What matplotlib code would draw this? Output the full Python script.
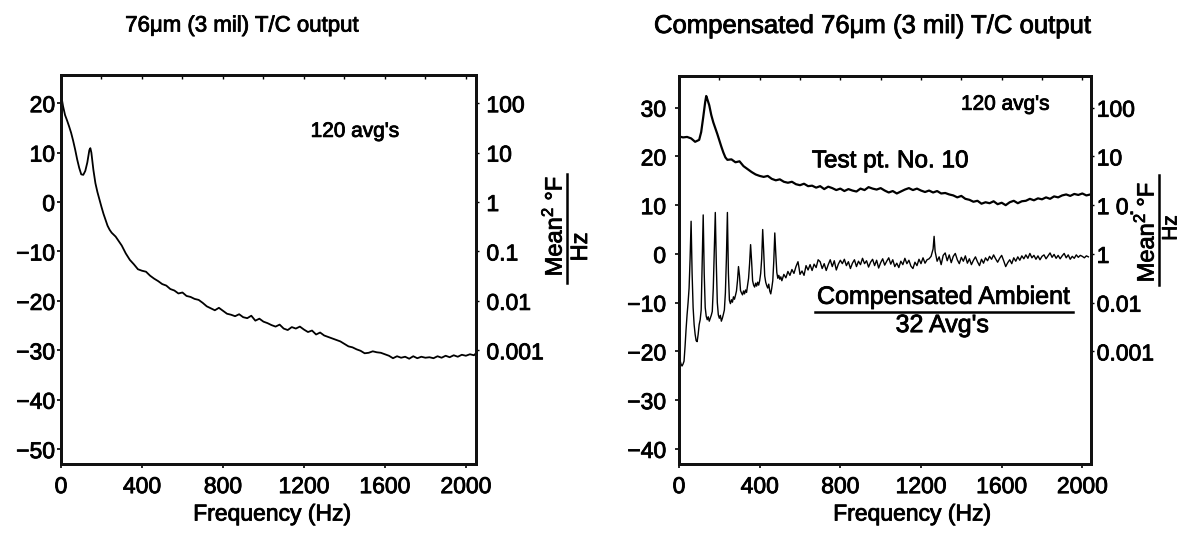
import matplotlib
matplotlib.use("Agg")
import matplotlib.pyplot as plt
import matplotlib.patheffects as pe
from matplotlib.lines import Line2D
from matplotlib.text import Text

plt.rcParams['font.family'] = ['Liberation Sans', 'DejaVu Sans']
plt.rcParams['mathtext.fontset'] = 'custom'
plt.rcParams['mathtext.rm'] = 'Liberation Sans'
plt.rcParams['mathtext.it'] = 'Liberation Sans:italic'
plt.rcParams['mathtext.bf'] = 'Liberation Sans:bold'
plt.rcParams['axes.unicode_minus'] = True

# ---------------- data ----------------
left_freq = [0, 10, 20, 30, 40, 50, 60, 70, 80, 90, 100, 110, 120, 130, 140, 145, 150, 160, 170, 180,
             190, 200, 210, 220, 230, 240, 250, 260, 270, 280, 290, 300, 320, 340, 360, 380, 400,
             420, 440, 460, 480, 500, 520, 540, 560, 580, 600, 620, 640, 660, 680, 700, 720, 740,
             760, 780, 800, 820, 840, 860, 880, 900, 920, 940, 960, 980, 1000, 1020, 1040, 1060,
             1080, 1100, 1120, 1140, 1160, 1180, 1200, 1220, 1240, 1260, 1280, 1300, 1320, 1340,
             1360, 1380, 1400, 1420, 1440, 1460, 1480, 1500, 1520, 1540, 1560, 1580, 1600, 1620,
             1640, 1660, 1680, 1700, 1720, 1740, 1760, 1780, 1800, 1820, 1840, 1860, 1880, 1900,
             1920, 1940, 1960, 1980, 2000, 2020, 2040, 2050]
left_db = [21.8, 19.4, 17.6, 16.5, 15.3, 14.0, 12.4, 10.6, 8.6, 6.9, 5.6, 5.5, 6.3, 8.0, 10.5, 10.9,
           10.0, 6.5, 3.8, 2.0, 0.5, -1.0, -2.4, -3.6, -4.8, -5.6, -6.2, -6.6, -7.0, -7.6, -8.2,
           -8.8, -10.4, -11.7, -12.6, -13.6, -13.9, -14.1, -14.9, -15.5, -16.0, -16.6, -16.9,
           -17.6, -17.9, -18.5, -18.3, -19.0, -19.2, -19.6, -19.8, -20.4, -21.1, -21.5, -21.9,
           -21.4, -22.0, -22.6, -22.8, -23.1, -22.7, -23.3, -23.5, -23.0, -24.0, -23.6, -24.2,
           -24.5, -24.9, -25.2, -24.8, -25.6, -25.9, -25.3, -25.6, -25.2, -25.8, -26.3, -26.0,
           -26.8, -26.4, -27.0, -27.3, -27.6, -27.9, -28.2, -28.7, -29.2, -29.4, -29.8, -30.1,
           -30.6, -30.5, -30.2, -30.4, -30.5, -30.8, -31.1, -31.6, -31.2, -31.5, -31.3, -31.7,
           -31.2, -31.6, -31.3, -31.5, -31.4, -31.6, -31.2, -31.5, -31.1, -31.4, -31.0, -31.3,
           -30.9, -31.1, -30.8, -31.0, -30.6]

test_freq = [0, 20, 40, 60, 80, 100, 110, 120, 130, 135, 140, 150, 160, 170, 180, 190, 200, 210,
             220, 230, 240, 260, 280, 300, 320, 340, 360, 380, 400, 420, 440, 460, 480, 500, 520,
             540, 560, 580, 600, 620, 640, 660, 680, 700, 720, 740, 760, 780, 800, 820, 840, 860,
             880, 900, 920, 940, 960, 980, 1000, 1020, 1040, 1060, 1080, 1100, 1120, 1140, 1160,
             1180, 1200, 1220, 1240, 1260, 1280, 1300, 1320, 1340, 1360, 1380, 1400, 1420, 1440,
             1460, 1480, 1500, 1520, 1540, 1560, 1580, 1600, 1620, 1640, 1660, 1680, 1700, 1720,
             1740, 1760, 1780, 1800, 1820, 1840, 1860, 1880, 1900, 1920, 1940, 1960, 1980, 2000,
             2020, 2040]
test_db = [24.1, 23.9, 24.0, 23.7, 23.0, 23.4, 25.0, 28.0, 31.2, 32.4, 31.8, 30.5, 28.5, 27.0,
           25.8, 24.6, 23.3, 22.0, 20.8, 19.8, 19.3, 19.4, 18.8, 19.0, 18.0, 17.4, 16.8, 16.3,
           16.0, 15.8, 16.0, 15.4, 15.1, 15.3, 14.8, 14.6, 14.8, 14.3, 14.1, 14.4, 13.9, 14.0,
           13.6, 13.9, 13.3, 13.8, 13.5, 13.1, 13.4, 12.9, 13.3, 13.0, 12.8, 13.4, 13.1, 13.7,
           13.4, 13.2, 13.5, 13.0, 12.6, 12.9, 12.4, 12.8, 13.2, 13.5, 13.1, 13.4, 13.0, 12.7,
           13.0, 12.6, 12.9, 12.4, 12.5, 12.2, 12.0, 11.6, 11.9, 11.3, 11.1, 10.7, 10.9, 10.3,
           10.6, 10.4, 10.8, 10.2, 10.5, 10.0, 10.6, 10.9, 10.4, 10.8, 10.9, 11.3, 11.0, 11.4,
           11.2, 11.6, 11.3, 11.8, 11.6, 12.0, 12.2, 11.9, 12.3, 12.1, 12.4, 12.0, 12.2]

amb_freq = [0, 5, 10, 15, 20, 25, 30, 35, 40, 45, 50, 55, 60, 65, 70, 75, 80, 85, 90, 95, 100,
            105, 110, 115, 120, 125, 130, 135, 140, 145, 150, 155, 160, 165, 170, 175, 180, 185,
            190, 195, 200, 205, 210, 215, 220, 225, 230, 235, 240, 245, 250, 255, 260, 265, 270,
            275, 280, 285, 290, 295, 300, 305, 310, 315, 320, 325, 330, 335, 340, 345, 350, 355,
            360, 365, 370, 375, 380, 385, 390, 395, 400, 405, 410, 415, 420, 425, 430, 435, 440,
            445, 450, 455, 460, 465, 470, 475, 480, 485, 490, 495, 500, 505, 510, 520, 530, 540,
            550, 560, 570, 580, 590, 595, 600, 610, 620, 630, 640, 650, 660, 670, 680, 690, 700,
            710, 720, 730, 740, 750, 760, 770, 780, 790, 800, 810, 820, 830, 840, 850, 860, 870,
            880, 890, 900, 910, 920, 930, 940, 950, 960, 970, 980, 990, 1000, 1010, 1020, 1030,
            1040, 1050, 1060, 1070, 1080, 1090, 1100, 1110, 1120, 1130, 1140, 1150, 1160, 1170,
            1180, 1190, 1200, 1210, 1220, 1230, 1240, 1250, 1260, 1265, 1270, 1280, 1290, 1300,
            1310, 1320, 1330, 1340, 1350, 1360, 1370, 1380, 1390, 1400, 1410, 1420, 1430, 1440,
            1450, 1460, 1470, 1480, 1490, 1500, 1510, 1520, 1530, 1540, 1550, 1560, 1570, 1580,
            1590, 1600, 1610, 1620, 1630, 1640, 1650, 1660, 1670, 1680, 1690, 1700, 1710, 1720,
            1730, 1740, 1750, 1760, 1770, 1780, 1790, 1800, 1810, 1820, 1830, 1840, 1850, 1860,
            1870, 1880, 1890, 1900, 1910, 1920, 1930, 1940, 1950, 1960, 1970, 1980, 1990, 2000,
            2010, 2020, 2030]
amb_db = [-20.4, -21.8, -22.6, -23.0, -22.6, -22.0, -19.0, -15.5, -12.5, -10.0, -7.0, -1.0, 6.7,
          -4.0, -11.0, -14.5, -16.5, -17.8, -18.0, -16.5, -14.5, -13.5, -11.5, -2.0, 8.0, -4.0,
          -11.0, -12.8, -13.5, -12.9, -13.8, -13.2, -12.6, -11.8, -7.0, 0.5, 8.5, -2.0, -10.0,
          -12.5, -13.2, -12.6, -13.8, -13.2, -12.4, -11.5, -8.0, -1.0, 8.5, -4.0, -9.5, -10.2,
          -9.4, -9.9, -8.8, -9.3, -8.5, -7.6, -5.5, -2.6, -4.5, -7.5, -8.0, -8.4, -7.6, -8.2,
          -7.4, -7.9, -6.5, -5.0, -2.0, 1.9, -1.5, -5.5, -6.4, -6.8, -6.0, -6.6, -5.8, -6.4,
          -5.5, -4.0, -1.0, 5.0, 0.5, -4.5, -5.8, -6.5, -7.0, -6.2, -7.6, -8.2, -7.0, -5.5,
          -1.5, 4.3, 0.0, -3.8, -5.0, -4.4, -5.2, -4.7, -5.5, -4.2, -4.9, -3.6, -4.4, -3.2,
          -4.0, -2.6, -1.6, -2.8, -4.2, -3.5, -4.4, -2.4, -3.3, -2.2, -3.4, -2.1, -2.8, -1.2,
          -1.6, -3.0, -2.0, -3.4, -2.2, -1.2, -2.6, -1.4, -3.3, -2.1, -1.3, -2.0, -1.1, -2.4,
          -1.6, -3.0, -1.9, -1.2, -2.6, -1.5, -2.2, -0.9, -2.0, -1.4, -2.7, -1.7, -1.1, -2.4,
          -1.3, -2.9, -1.8, -1.0, -2.3, -1.5, -0.8, -2.1, -1.2, -2.6, -1.9, -2.8, -1.5, -2.2,
          -0.9, -2.0, -1.3, -2.5, -3.0, -1.7, -2.4, -1.1, -2.0, -0.8, -1.9, -1.2, -1.0, -0.5,
          1.0, 3.6, 0.5, -1.5, -0.6, -2.2, -0.3, 0.2, -1.4, -0.2, -1.8, -0.5, 0.1, -1.2, -2.0,
          -0.7, -1.5, -0.4, -1.9, -1.0, -2.2, -1.3, -0.6, -1.6, -2.4, -1.1, -1.9, -0.8, -1.4,
          -0.5, -1.1, -0.2, -1.0, -1.7, -0.9, -0.3, -1.4, -2.6, -1.8, -1.2, -2.0, -0.8, -1.5,
          -0.6, -1.3, -0.4, -1.0, -0.2, -0.9, 0.1, -0.8, -0.3, -1.1, -0.4, -1.2, -0.5, -0.2,
          -1.0, -0.4, 0.2, -0.7, -0.1, -0.9, -0.3, -1.0, -0.4, 0.1, -0.8, -0.2, -1.1, -0.5,
          -0.9, -0.2, -0.7, -0.3, -0.5, -0.8, -0.4, -0.6]

x_ticks = [0, 400, 800, 1200, 1600, 2000]
left_yticks = [20, 10, 0, -10, -20, -30, -40, -50]
left_right_ticks = [20, 10, 0, -10, -20, -30]
left_right_labels = ['100', '10', '1', '0.1', '0.01', '0.001']
right_yticks = [30, 20, 10, 0, -10, -20, -30, -40]
right_right_ticks = [30, 20, 10, 0, -10, -20]
right_right_labels = ['100', '10', '1 0.', '1', '0.01', '0.001']

# ---------------- layout ----------------
W, H = 1183, 534
fig = plt.figure(figsize=(W / 100, H / 100), dpi=100)


def box(l, r, t, b):
    return [l / W, 1 - b / H, (r - l) / W, (b - t) / H]


def fx(x):
    return x / W


def fy(y):
    return 1 - y / H


FS = 16.5
SPINE_LW = 2.1
INK = '#111111'


def style_axes(ax, xlim, ylim, yticks, rticks, rlabels, lpad, rpad):
    ax.set_xlim(*xlim)
    ax.set_ylim(*ylim)
    ax.set_xticks(x_ticks)
    ax.set_xticklabels([str(v) for v in x_ticks])
    ax.set_yticks(yticks)
    ax.set_yticklabels([('\u2212' + str(-v)) if v < 0 else str(v) for v in yticks])
    for s in ax.spines.values():
        s.set_linewidth(SPINE_LW)
        s.set_color(INK)
    ax.tick_params(axis='x', direction='out', length=3, width=1.2, pad=5, labelsize=FS)
    ax.tick_params(axis='y', direction='out', length=3, width=1.2, pad=lpad, labelsize=FS)
    top = ax.secondary_xaxis('top')
    top.set_xticks(list(range(0, 2001, 200)))
    top.tick_params(direction='in', length=3, width=1.0, labeltop=False)
    top.spines['top'].set_linewidth(SPINE_LW)
    top.spines['top'].set_color(INK)
    tw = ax.twinx()
    tw.set_ylim(*ylim)
    tw.set_yticks(rticks)
    tw.set_yticklabels(rlabels)
    tw.tick_params(axis='y', direction='out', length=2.5, width=1.0, pad=rpad, labelsize=FS)
    for s in tw.spines.values():
        s.set_linewidth(SPINE_LW)
        s.set_color(INK)
    return tw


axL = fig.add_axes(box(61, 476, 75, 464))
axL.plot(left_freq, left_db, color='black', lw=1.3)
style_axes(axL, (0, 2050), (-53.0, 25.7), left_yticks, left_right_ticks, left_right_labels, 1.3, 5.0)
axL.text(1452, 14.3, "120 avg's", fontsize=15, ha='center', va='center')

axR = fig.add_axes(box(679, 1091, 76, 464))
axR.plot(test_freq, test_db, color='black', lw=1.6)
axR.plot(amb_freq, amb_db, color='black', lw=1.0)
style_axes(axR, (0, 2043), (-43.1, 36.5), right_yticks, right_right_ticks, right_right_labels, 6.3, 1.6)
axR.text(1618, 30.7, "120 avg's", fontsize=15, ha='center', va='center')
axR.text(1047, 19.0, "Test pt. No. 10", fontsize=17.5, ha='center', va='center')
axR.text(1310, -8.8, "Compensated Ambient", fontsize=18, ha='center', va='center')
axR.text(1305, -14.6, "32 Avg's", fontsize=18, ha='center', va='center')
frac_left, frac_right, frac_y = 676, 1952, -12.0
axR.add_line(Line2D([frac_left, frac_right], [frac_y, frac_y], color='black', lw=1.8))

# titles and x labels
fig.text(fx(242), fy(26), "76\u03bcm (3 mil) T/C output", fontsize=16, ha='center', va='center')
fig.text(fx(873), fy(26), "Compensated 76\u03bcm (3 mil) T/C output", fontsize=18.5,
         ha='center', va='center')
fig.text(fx(272), fy(514), "Frequency (Hz)", fontsize=FS, ha='center', va='center')
fig.text(fx(912), fy(514), "Frequency (Hz)", fontsize=FS, ha='center', va='center')


# y-axis unit fractions (rotated)
def unit_label(x_num, y_num, x_bar, y_top, y_bot, x_den, y_den, fs_num, fs_den):
    fig.text(fx(x_num), fy(y_num), "Mean$^{2}$ \u00b0F", rotation=90, fontsize=fs_num,
             ha='center', va='center')
    fig.add_artist(Line2D([fx(x_bar), fx(x_bar)], [fy(y_top), fy(y_bot)],
                          transform=fig.transFigure, color='black', lw=1.8))
    fig.text(fx(x_den), fy(y_den), "Hz", rotation=90, fontsize=fs_den, ha='center', va='center')


unit_label(554, 226, 567, 174, 283, 581, 247, 17, 17)
unit_label(1146, 232, 1159, 175, 285, 1171, 228, 17, 15)

# slightly heavier text, as in the printed original
for t in fig.findobj(Text):
    t.set_path_effects([pe.withStroke(linewidth=0.6, foreground='black')])

fig.savefig("out.png", dpi=100)
